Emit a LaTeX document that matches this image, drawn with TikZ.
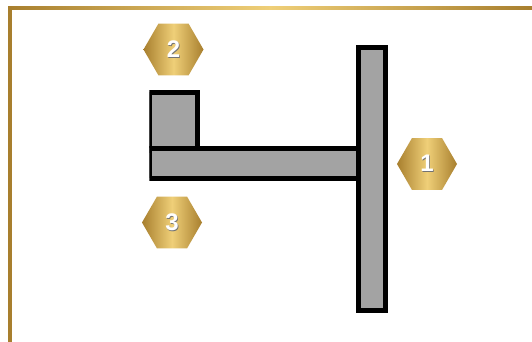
\documentclass[tikz,border=0pt]{standalone}
\usepackage{fontspec}
\setmainfont{Liberation Sans}
\usetikzlibrary{shapes.geometric}
\definecolor{goldD}{HTML}{A87F2E}
\definecolor{goldL}{HTML}{EFCF78}
\definecolor{barfill}{HTML}{A3A3A3}
\newcommand{\hexnum}[1]{\makebox[0pt][l]{\raisebox{-1pt}{\hspace{0.8pt}\textcolor{black!55}{#1}}}\textcolor{white}{#1}}
\tikzset{
  x=1pt,y=-1pt,
  badge/.style={regular polygon,regular polygon sides=6,minimum size=60pt,inner sep=0pt,
    left color=goldD,right color=goldD,middle color=goldL,draw=none,
    font=\fontsize{24}{24}\selectfont\bfseries},
  barpart/.style={draw=black,line width=5pt,fill=barfill,line join=miter},
  frameTop/.style={left color=goldD,right color=goldD,middle color=goldL,draw=none},
  frameLeft/.style={fill=goldD,draw=none}
}
\begin{document}
\begin{tikzpicture}
\useasboundingbox (0,0) rectangle (532,342);
\fill[white] (0,0) rectangle (532,342);
\path[frameTop] (8,6.2) rectangle (532,10);
\path[frameLeft] (8,6.2) rectangle (12,342);
\begin{scope}
\clip (149.3,80) rectangle (400,320);
\draw[barpart] (149.3,92.5) rectangle (197.8,150);
\draw[barpart] (149.3,148.4) rectangle (358,178.4);
\end{scope}
\draw[barpart] (358,47.3) rectangle (385.5,310.7);
\node[badge] (n1) at (427,164) {\hexnum{1}};
\node[badge] (n2) at (173.5,49.5) {\hexnum{2}};
\node[badge] (n3) at (172,222.5) {\hexnum{3}};
\end{tikzpicture}
\end{document}
